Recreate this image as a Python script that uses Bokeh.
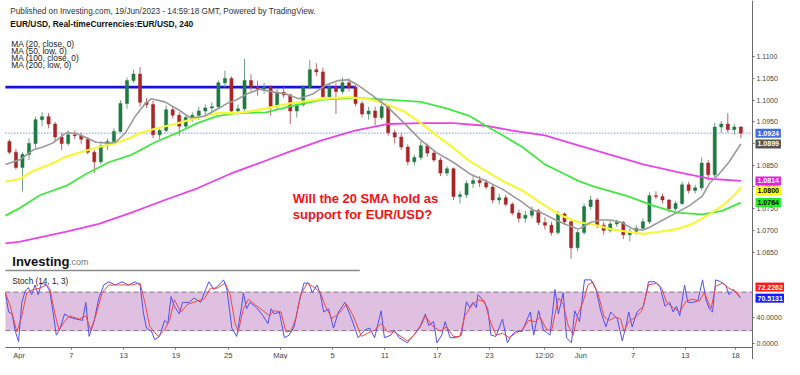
from bokeh.plotting import figure
from bokeh.models import Range1d, FixedTicker, Label, CustomJSTickFormatter
from bokeh.embed import file_html
from bokeh.resources import INLINE

# ---------------- data ----------------
# 12-hour candles, x = trading-day index (0 = Mon 3 Apr 2023)
opens = [1.0905, 1.0880, 1.0845, 1.0875, 1.0900, 1.0955, 1.0962, 1.0945, 1.0915, 1.0900,
         1.0920, 1.0918, 1.0910, 1.0880, 1.0858, 1.0895, 1.0905, 1.0928, 1.0992, 1.1045,
         1.1060, 1.0995, 1.0990, 1.0920, 1.0930, 1.0978, 1.0965, 1.0940, 1.0960, 1.0965,
         1.0975, 1.0982, 1.0985, 1.1040, 1.1050, 1.0975, 1.0980, 1.1045, 1.1030, 1.1025,
         1.1030, 1.0985, 1.1018, 1.1012, 1.0975, 1.0990, 1.1030, 1.1070, 1.1065, 1.1008,
         1.1030, 1.1020, 1.1040, 1.1030, 1.0992, 1.0968, 1.0975, 1.0960, 1.0985, 1.0925,
         1.0915, 1.0892, 1.0858, 1.0868, 1.0895, 1.0878, 1.0862, 1.0832, 1.0842, 1.0778,
         1.0782, 1.0808, 1.0815, 1.0810, 1.0800, 1.0770, 1.0775, 1.0760, 1.0740, 1.0728,
         1.0735, 1.0745, 1.0718, 1.0712, 1.0695, 1.0738, 1.0720, 1.0660, 1.0695, 1.0755,
         1.0770, 1.0712, 1.0700, 1.0715, 1.0718, 1.0690, 1.0698, 1.0705, 1.0720, 1.0780,
         1.0778, 1.0770, 1.0750, 1.0762, 1.0805, 1.0792, 1.0798, 1.0855, 1.0828, 1.0938,
         1.0945, 1.0932, 1.0938]
highs = [1.0910, 1.0888, 1.0880, 1.0912, 1.0962, 1.0972, 1.0970, 1.0950, 1.0925, 1.0930,
         1.0930, 1.0925, 1.0915, 1.0885, 1.0905, 1.0912, 1.0935, 1.1000, 1.1052, 1.1070,
         1.1076, 1.1005, 1.0998, 1.0935, 1.0988, 1.0985, 1.0972, 1.0965, 1.0972, 1.0985,
         1.0990, 1.0995, 1.1045, 1.1068, 1.1055, 1.0990, 1.1095, 1.1060, 1.1045, 1.1040,
         1.1035, 1.1025, 1.1030, 1.1015, 1.0995, 1.1035, 1.1092, 1.1085, 1.1075, 1.1040,
         1.1040, 1.1052, 1.1050, 1.1035, 1.0998, 1.0985, 1.0985, 1.1002, 1.0990, 1.0932,
         1.0925, 1.0898, 1.0875, 1.0905, 1.0900, 1.0885, 1.0868, 1.0848, 1.0845, 1.0790,
         1.0815, 1.0828, 1.0825, 1.0818, 1.0805, 1.0785, 1.0782, 1.0765, 1.0748, 1.0745,
         1.0755, 1.0750, 1.0730, 1.0720, 1.0745, 1.0742, 1.0725, 1.0700, 1.0762, 1.0780,
         1.0775, 1.0720, 1.0722, 1.0725, 1.0722, 1.0705, 1.0712, 1.0728, 1.0788, 1.0790,
         1.0785, 1.0772, 1.0768, 1.0812, 1.0812, 1.0805, 1.0868, 1.0862, 1.0948, 1.0952,
         1.0970, 1.0945, 1.0940]
lows = [1.0875, 1.0840, 1.0790, 1.0862, 1.0890, 1.0940, 1.0935, 1.0905, 1.0885, 1.0895,
        1.0910, 1.0900, 1.0875, 1.0832, 1.0852, 1.0885, 1.0898, 1.0925, 1.0980, 1.1040,
        1.0985, 1.0982, 1.0912, 1.0910, 1.0925, 1.0958, 1.0918, 1.0935, 1.0950, 1.0955,
        1.0965, 1.0968, 1.0980, 1.1030, 1.0968, 1.0965, 1.0975, 1.1020, 1.1010, 1.1015,
        1.0965, 1.0980, 1.1005, 1.0945, 1.0960, 1.0985, 1.1025, 1.1055, 1.1000, 1.1000,
        1.0968, 1.1015, 1.1020, 1.0985, 1.0960, 1.0955, 1.0942, 1.0955, 1.0918, 1.0900,
        1.0885, 1.0850, 1.0850, 1.0862, 1.0870, 1.0858, 1.0825, 1.0825, 1.0770, 1.0762,
        1.0775, 1.0798, 1.0800, 1.0795, 1.0762, 1.0760, 1.0755, 1.0735, 1.0718, 1.0718,
        1.0728, 1.0712, 1.0702, 1.0688, 1.0690, 1.0712, 1.0635, 1.0652, 1.0690, 1.0748,
        1.0705, 1.0690, 1.0695, 1.0708, 1.0680, 1.0675, 1.0690, 1.0700, 1.0715, 1.0772,
        1.0762, 1.0742, 1.0745, 1.0758, 1.0785, 1.0785, 1.0792, 1.0815, 1.0820, 1.0925,
        1.0925, 1.0920, 1.0912]
closes = [1.0880, 1.0845, 1.0875, 1.0900, 1.0955, 1.0962, 1.0945, 1.0915, 1.0900, 1.0920,
          1.0918, 1.0910, 1.0880, 1.0858, 1.0895, 1.0905, 1.0928, 1.0992, 1.1045, 1.1060,
          1.0995, 1.0990, 1.0920, 1.0930, 1.0978, 1.0965, 1.0940, 1.0960, 1.0965, 1.0975,
          1.0982, 1.0985, 1.1040, 1.1050, 1.0975, 1.0980, 1.1045, 1.1030, 1.1025, 1.1030,
          1.0985, 1.1018, 1.1012, 1.0975, 1.0990, 1.1030, 1.1070, 1.1065, 1.1008, 1.1030,
          1.1020, 1.1040, 1.1030, 1.0992, 1.0968, 1.0975, 1.0960, 1.0985, 1.0925, 1.0915,
          1.0892, 1.0858, 1.0868, 1.0895, 1.0878, 1.0862, 1.0832, 1.0842, 1.0778, 1.0782,
          1.0808, 1.0815, 1.0810, 1.0800, 1.0770, 1.0775, 1.0760, 1.0740, 1.0728, 1.0735,
          1.0745, 1.0718, 1.0712, 1.0695, 1.0738, 1.0720, 1.0660, 1.0695, 1.0755, 1.0770,
          1.0712, 1.0700, 1.0715, 1.0718, 1.0690, 1.0698, 1.0705, 1.0720, 1.0780, 1.0778,
          1.0770, 1.0750, 1.0762, 1.0805, 1.0792, 1.0798, 1.0855, 1.0828, 1.0938, 1.0945,
          1.0932, 1.0938, 1.0924]

# moving averages (day index, price)
ma20_x = [-1.05, 0.08, 1.05, 1.81, 2.56, 3.62, 4.37, 5.12, 5.88, 6.86, 7.39, 8.14, 8.89,
          9.65, 10.10, 11.15, 12.13, 13.11, 14.17, 15.15, 15.90, 16.65, 17.41, 18.39, 19.44,
          20.42, 21.40, 22.46, 23.44, 24.42, 25.17, 25.70, 26.98, 28.18, 29.47, 30.75, 31.95,
          33.23, 34.51, 35.72, 37.00, 37.75, 38.51, 39.26, 40.24, 40.99, 41.90, 42.80, 43.18,
          43.78, 44.54, 45.29, 46.05, 47.02, 47.78, 48.30, 49.28, 50.34, 51.32, 52.30, 52.83,
          53.58, 54.33, 55.25]
ma20 = [1.0852, 1.0863, 1.0885, 1.0892, 1.0901, 1.0925, 1.0923, 1.0914, 1.0903, 1.0901,
        1.0903, 1.0925, 1.0963, 1.0992, 1.1003, 1.0996, 1.0979, 1.0959, 1.0963, 1.0979,
        1.0992, 1.1001, 1.1014, 1.1025, 1.1019, 1.1014, 1.1003, 1.1014, 1.1034, 1.1045,
        1.1047, 1.1039, 1.1012, 1.0985, 1.0947, 1.0908, 1.0879, 1.0857, 1.0830, 1.0814,
        1.0795, 1.0780, 1.0765, 1.0748, 1.0737, 1.0725, 1.0713, 1.0703, 1.0708, 1.0719,
        1.0724, 1.0724, 1.0719, 1.0703, 1.0701, 1.0708, 1.0724, 1.0741, 1.0757, 1.0779,
        1.0808, 1.0830, 1.0857, 1.0899]
ma50_x = [-1.05, 0.08, 1.05, 2.34, 3.62, 4.82, 6.10, 7.39, 8.59, 9.12, 10.40, 11.91, 13.64,
          15.15, 16.65, 17.63, 18.91, 20.65, 23.21, 25.17, 26.98, 28.18, 29.47, 30.75, 31.95,
          33.23, 34.51, 35.72, 37.00, 38.51, 40.24, 41.52, 42.80, 44.01, 45.29, 46.57, 47.78,
          49.06, 50.34, 51.55, 52.83, 54.11, 55.09, 55.25]
ma50 = [1.0812, 1.0819, 1.0837, 1.0852, 1.0870, 1.0881, 1.0892, 1.0901, 1.0914, 1.0923,
        1.0934, 1.0945, 1.0959, 1.0970, 1.0970, 1.0974, 1.0981, 1.0992, 1.1003, 1.1007,
        1.1001, 1.0990, 1.0974, 1.0947, 1.0919, 1.0890, 1.0859, 1.0837, 1.0814, 1.0792,
        1.0757, 1.0734, 1.0719, 1.0713, 1.0703, 1.0697, 1.0692, 1.0697, 1.0703, 1.0715,
        1.0737, 1.0763, 1.0792, 1.0800]
ma100_x = [-1.05, 0.08, 1.58, 3.62, 5.12, 6.86, 8.59, 10.40, 12.13, 13.64, 15.15, 16.65,
           18.91, 20.65, 23.21, 25.70, 28.18, 30.75, 32.71, 34.51, 35.72, 37.00, 38.51, 40.24,
           41.75, 42.80, 44.01, 45.29, 46.57, 48.53, 50.34, 52.30, 53.81, 55.25]
ma100 = [1.0734, 1.0752, 1.0781, 1.0803, 1.0830, 1.0857, 1.0874, 1.0903, 1.0925, 1.0947,
         1.0963, 1.0970, 1.0972, 1.0985, 1.1001, 1.1005, 1.1001, 1.0996, 1.0981, 1.0963,
         1.0941, 1.0919, 1.0892, 1.0852, 1.0830, 1.0814, 1.0801, 1.0790, 1.0779, 1.0757,
         1.0741, 1.0737, 1.0745, 1.0764]
ma200_x = [-1.05, 0.08, 3.62, 6.10, 8.59, 11.15, 13.64, 16.13, 18.91, 20.65, 23.21, 25.70,
           28.18, 30.75, 33.23, 35.72, 37.75, 40.24, 42.80, 45.29, 47.78, 50.34, 52.83, 55.25]
ma200 = [1.0670, 1.0674, 1.0697, 1.0715, 1.0741, 1.0770, 1.0797, 1.0830, 1.0861, 1.0881,
         1.0908, 1.0930, 1.0945, 1.0947, 1.0947, 1.0941, 1.0930, 1.0919, 1.0896, 1.0874,
         1.0852, 1.0835, 1.0819, 1.0814]

# stochastic (14, 1, 3)
stoch_k_x = [-1.06, -0.81, -0.55, -0.30, -0.05, 0.20, 0.45, 0.70, 0.96, 1.21, 1.45, 1.71,
             2.09, 2.34, 2.59, 2.84, 3.09, 3.47, 3.84, 4.35, 4.85, 5.10, 5.35, 5.73, 6.10,
             6.48, 6.86, 7.36, 7.86, 8.37, 8.87, 9.25, 9.50, 9.74, 10.12, 10.38, 10.75, 11.13,
             11.38, 11.63, 11.88, 12.26, 12.51, 13.02, 13.39, 13.89, 14.27, 14.52, 14.90,
             15.28, 15.65, 15.90, 16.28, 16.65, 17.03, 17.16, 17.41, 17.66, 18.16, 18.67,
             19.04, 19.29, 19.54, 19.92, 20.30, 20.67, 21.05, 21.43, 21.80, 22.18, 22.44,
             22.81, 23.06, 23.31, 23.69, 24.06, 24.44, 24.94, 25.45, 25.95, 26.45, 26.83,
             27.21, 27.71, 27.96, 28.46,
             28.71, 29.09, 29.71, 30.22, 30.72, 31.10, 31.35, 31.73, 31.98, 32.35, 32.61,
             32.99, 33.48, 33.86, 34.24, 34.49, 34.74, 34.99, 35.12, 35.49, 35.87, 36.12,
             36.50, 37.00, 37.38, 37.63, 38.00, 38.51, 38.89, 39.13, 39.39, 39.77, 40.14,
             40.64, 41.02, 41.28, 41.65, 41.90, 42.28, 42.53, 42.90, 43.28, 43.78, 44.16,
             44.54, 44.91, 45.29, 45.80, 46.17, 46.42, 46.67, 46.93, 47.30, 47.80, 48.18,
             48.68, 49.06, 49.44, 49.81, 50.06, 50.32, 50.57, 50.94, 51.19, 51.57, 51.95,
             52.32, 52.58, 52.83, 53.08, 53.33, 53.71, 54.09, 54.34, 54.71, 55.22]
stoch_k = [79, 49, 46, 19, 3, 64, 81, 87, 76, 91, 76, 94, 91, 81, 49, 13, 21, 46, 41, 38,
           36, 64, 11, 34, 71, 91, 96, 91, 96, 91, 96, 91, 49, 24, 19, 6, 11, 36, 31, 73,
           58, 46, 64, 64, 71, 64, 84, 96, 84, 91, 99, 84, 24, 11, 58, 79, 54, 64, 56, 43,
           31, 54, 46, 49, 9, 13, 26, 64, 94, 94, 79, 91, 76, 49, 54, 24, 49, 64, 38, 9,
           21, 24, 9, 51, 9, 13,
           21, 9, 1, 13, 28, 46, 28, 34, 1, 13, 34, 9, 9, 13, 65, 56, 64, 56, 76, 68,
           54, 13, 11, 38, 1, 11, 19, 19, 38, 49, 13, 51, 21, 13, 84, 46, 79, 9, 1, 51,
           34, 99, 99, 84, 49, 26, 49, 38, 4, 24, 49, 26, 49, 58, 96, 96, 88, 58, 64, 49,
           58, 43, 91, 64, 64, 66, 99, 68, 54, 49, 99, 96, 91, 76, 84, 70.5131]
stoch_d_x = [-1.06, -0.68, -0.18, 0.20, 0.58, 1.08, 1.58, 2.09, 2.34, 2.71, 3.04, 3.47,
             3.84, 4.60, 5.10, 5.48, 5.86, 6.35, 6.86, 7.61, 8.61, 9.25, 9.62, 10.00, 10.63,
             11.13, 11.51, 11.88, 12.38, 12.89, 13.64, 14.15, 14.64, 15.15, 15.77, 16.15,
             16.53, 16.78, 17.16, 17.54, 18.03, 18.67, 19.16, 19.54, 20.05, 20.42, 20.80,
             21.18, 21.55, 22.06, 22.68, 23.06, 23.44, 23.94, 24.44, 25.07, 25.57, 26.20,
             26.70, 27.21, 27.71, 28.21, 28.71, 29.22, 29.71, 30.22, 30.72, 31.10, 31.60,
             32.23, 32.73, 33.23, 33.74, 34.12, 34.61, 35.12, 35.62, 36.00, 36.50, 37.00,
             37.51, 38.00, 38.51, 39.01, 39.51, 39.89, 40.39, 40.77, 41.28, 41.65, 42.03,
             42.41, 42.78, 43.16, 43.54, 43.91, 44.29, 44.79, 45.17, 45.67, 46.05, 46.30,
             46.67, 47.18, 47.68, 48.18, 48.81, 49.19, 49.56, 50.06, 50.57, 51.07, 51.57,
             52.07, 52.45, 52.96, 53.33, 53.83, 54.34, 54.84, 55.22]
stoch_d = [79, 58, 18, 43, 79, 84, 86, 91, 86, 49, 21, 34, 43, 38, 43, 21, 43, 79, 91, 91,
           91, 94, 64, 26, 11, 21, 36, 68, 49, 61, 66, 69, 86, 86, 94, 76, 31, 19, 54, 69,
           61, 51, 43, 51, 49, 18, 19, 39, 76, 94, 86, 79, 58, 39, 46, 61, 43, 11, 16, 21,
           31, 18, 18, 11, 4, 13, 26, 43, 28, 19, 26, 11, 11, 43, 58, 68, 66, 38, 13, 16,
           9, 16, 21, 36, 34, 41, 21, 21, 71, 61, 28, 13, 46, 64, 91, 96, 79, 41, 36, 41,
           38, 19, 34, 41, 51, 91, 94, 86, 64, 56, 49, 66, 69, 66, 79, 54, 89, 94, 86, 81,
           72.2262]
STOCH_BAND = [20, 80]
STOCH_TICKS = [0, 40]

RESIST_LEVEL = 1.1030
RESIST_END_DAY = 25.70

PRICE_TICKS = [1.0650, 1.0700, 1.0750, 1.0800, 1.0850, 1.0900, 1.0950, 1.1000, 1.1050, 1.1100]
X_TICKS = [0, 4, 8, 12, 16, 20, 24, 28, 32, 36, 40.2, 43, 47, 51, 54.85]
X_LABELS = ["Apr", "7", "13", "19", "25", "May", "5", "11", "17", "23", "12:00", "Jun",
            "7", "13", "18"]

# ---------------- layout helpers (reference pixel -> data units) ----------------
W, H = 784, 359
SX = 0.9843   # horizontal squeeze so the right-hand tags fit
SY = 0.964    # vertical squeeze so the bottom labels fit

def day_at(px):
    return (px - 19.0) / 13.27

def price_at(px):
    return 1.1100 - (px - 58.3) / 4505.0

def stoch_at(px):
    return (355.8 - px) / 0.6667

AXIS_X = day_at(764)
AXIS_Y = price_at(360)
xr = Range1d(day_at(0), day_at(W / SX))
yr = Range1d(price_at(H / SY), price_at(0))
sr = Range1d(stoch_at(H / SY), stoch_at(0))

def s2p(v):
    return yr.start + (v - sr.start) / (sr.end - sr.start) * (yr.end - yr.start)

FONT = "Liberation Sans"

p = figure(width=W, height=H, output_backend="svg", toolbar_location=None,
           x_range=xr, y_range=yr, y_axis_location="right",
           min_border_left=0, min_border_top=0, min_border_bottom=0, min_border_right=0,
           outline_line_color=None, background_fill_color="white", border_fill_color="white")
p.extra_y_ranges = {"stoch": sr}
p.xgrid.visible = False
p.ygrid.visible = False

# ---- stochastic pane ----
p.quad(left=[day_at(5)], right=[AXIS_X], bottom=[STOCH_BAND[0]], top=[STOCH_BAND[1]],
       y_range_name="stoch", fill_color="#dfc0e0", line_color=None)
p.segment(x0=[day_at(5)] * 2, x1=[AXIS_X] * 2, y0=STOCH_BAND, y1=STOCH_BAND,
          y_range_name="stoch", line_color="#857585", line_width=1, line_dash="5 3")
p.segment(x0=[day_at(5)], x1=[day_at(365)], y0=[stoch_at(280)], y1=[stoch_at(280)],
          y_range_name="stoch", line_color="#8a8a8a", line_width=1.5)
p.line(stoch_k_x, stoch_k, y_range_name="stoch", line_color="#5050f0", line_width=1)
p.line(stoch_d_x, stoch_d, y_range_name="stoch", line_color="#f04848", line_width=1)

# ---- price pane ----
p.segment(x0=[day_at(5)], x1=[RESIST_END_DAY], y0=[RESIST_LEVEL], y1=[RESIST_LEVEL],
          line_color="#1414dc", line_width=2.6)
p.segment(x0=[day_at(5)], x1=[AXIS_X], y0=[closes[-1]], y1=[closes[-1]],
          line_color="#3a66d6", line_width=1, line_dash="1 2")

cx = [-0.75 + 0.5 * i for i in range(len(closes))]
UP, DOWN = "#1f7a42", "#a82626"
UPW, DOWNW = "#6f9f80", "#b86a6a"
up = [c >= o for o, c in zip(opens, closes)]
colors = [UP if u else DOWN for u in up]
wcolors = [UPW if u else DOWNW for u in up]
tops = [max(o, c) for o, c in zip(opens, closes)]
bots = [min(o, c) for o, c in zip(opens, closes)]
p.segment(x0=cx, x1=cx, y0=lows, y1=highs, line_color=wcolors, line_width=1)
p.vbar(x=cx, width=0.24, top=tops, bottom=bots, fill_color=colors, line_color=colors,
       line_width=0.5)

p.line(ma200_x, ma200, line_color="#e844e8", line_width=1.8)
p.line(ma100_x, ma100, line_color="#44e644", line_width=1.8)
p.line(ma50_x, ma50, line_color="#f6f63a", line_width=2.2)
p.line(ma20_x, ma20, line_color="#9a9a9a", line_width=1.6)

# ---- axes (fixed inside the frame so the frame fills the canvas) ----
nearest = """
let b = 0;
for (let i = 0; i < tv.length; i++) { if (Math.abs(tv[i] - tick) < Math.abs(tv[b] - tick)) b = i; }
return tl[b];
"""
yax = p.yaxis[0]
yax.fixed_location = AXIS_X
ytv = PRICE_TICKS + [s2p(v) for v in STOCH_TICKS]
ytl = ["%.4f" % t for t in PRICE_TICKS] + ["%.4f" % v for v in STOCH_TICKS]
yax.ticker = FixedTicker(ticks=ytv)
yax.formatter = CustomJSTickFormatter(args=dict(tv=ytv, tl=ytl), code=nearest)
xax = p.xaxis[0]
xax.fixed_location = AXIS_Y
xax.bounds = (day_at(5), AXIS_X)
xax.ticker = FixedTicker(ticks=X_TICKS)
xax.formatter = CustomJSTickFormatter(args=dict(tv=X_TICKS, tl=X_LABELS), code=nearest)
for ax in (xax, yax):
    ax.axis_line_color = "#6a6a6a"
    ax.axis_line_width = 1
    ax.major_tick_line_color = "#6a6a6a"
    ax.major_tick_out = 2
    ax.major_tick_in = 0
    ax.minor_tick_line_color = None
    ax.major_label_text_font = FONT
    ax.major_label_text_color = "#444444"
    ax.major_label_standoff = 2
xax.major_label_text_font_size = "7.5px"
xax.major_label_standoff = 1
yax.major_label_text_font_size = "7px"

# ---- texts ----
def txt(x, y, s, size="8px", color="#222222", style="normal", baseline="middle"):
    p.add_layout(Label(x=x, y=y, text=s, text_font=FONT, text_font_size=size,
                       text_color=color, text_font_style=style, text_align="left",
                       text_baseline=baseline))

txt(day_at(10), price_at(11), "Published on Investing.com, 19/Jun/2023 - 14:59:18 GMT, Powered by TradingView.", size="8.2px", color="#333333")
txt(day_at(10), price_at(24.5), "EUR/USD, Real-timeCurrencies:EUR/USD, 240", size="8.4px", style="bold", color="#111111")
for i, s in enumerate(["MA (20, close, 0)", "MA (50, low, 0)", "MA (100, close, 0)", "MA (200, low, 0)"]):
    txt(day_at(11), price_at(45 + 7.3 * i), s, size="8.4px")
txt(day_at(297), price_at(205), "Will the 20 SMA hold as", size="13px", color="#f01414", style="bold")
txt(day_at(297), price_at(222), "support for EUR/USD?", size="13px", color="#f01414", style="bold")
txt(day_at(12), price_at(271), "Investing", size="13px", color="#111111", style="bold", baseline="alphabetic")
txt(day_at(69.5), price_at(271), ".com", size="9px", color="#777777", baseline="alphabetic")
txt(day_at(12), s2p(stoch_at(291)), "Stoch (14, 1, 3)", size="8.2px")

def tag(yv, s, bg, fg, dy=0):
    p.add_layout(Label(x=AXIS_X, y=yv, x_offset=3, y_offset=dy, text=s, text_font=FONT,
                       text_font_size="7px", text_font_style="bold", text_color=fg,
                       text_align="left", text_baseline="middle",
                       background_fill_color=bg, background_fill_alpha=1.0, padding=2))

tag(closes[-1], "%.4f" % closes[-1], "#4070dc", "white")
tag(ma20[-1], "%.4f" % ma20[-1], "#555555", "white")
tag(ma200[-1], "%.4f" % ma200[-1], "#e020e0", "white")
tag(ma50[-1], "%.4f" % ma50[-1], "#ffff00", "black", dy=-4)
tag(ma100[-1], "%.4f" % ma100[-1], "#22ee22", "black")
tag(s2p(stoch_d[-1]), "%.4f" % stoch_d[-1], "#ff1a1a", "white", dy=10)
tag(s2p(stoch_k[-1]), "%.4f" % stoch_k[-1], "#1a1aff", "white")

open("out.html", "w").write(file_html(p, INLINE))
